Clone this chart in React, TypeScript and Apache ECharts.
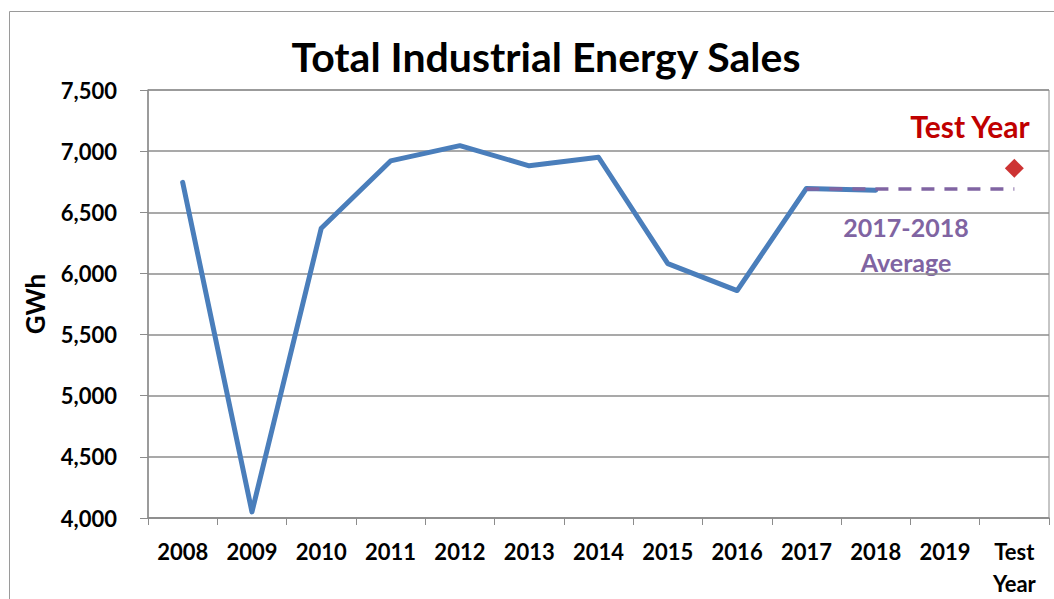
import React, { useEffect, useRef } from "react";
import * as echarts from "echarts";

const categories = ["2008", "2009", "2010", "2011", "2012", "2013", "2014", "2015", "2016", "2017", "2018", "2019", "Test\nYear"];
const salesValues = [6745, 4050, 6370, 6920, 7045, 6880, 6950, 6080, 5860, 6695, 6680, null, null];
const averageValues = [null, null, null, null, null, null, null, null, null, 6690, 6690, 6690, 6690];
const testYearValues = [null, null, null, null, null, null, null, null, null, null, null, null, 6860];
const titleText = "Total Industrial Energy Sales";
const yAxisName = "GWh";
const testYearLabel = "Test Year";
const averageLabel = "2017-2018\nAverage";

const FONT = "Lato, 'Open Sans', sans-serif";
const GRID_COLOR = "#8c8c8c";

export default function App() {
  const ref = useRef<HTMLDivElement>(null);
  useEffect(() => {
    if (!ref.current) return;
    const chart = echarts.init(ref.current, null, { renderer: "svg" });
    chart.setOption({
      animation: false,
      backgroundColor: "#ffffff",
      grid: {
        left: 148,
        top: 90,
        right: 5,
        bottom: 77,
        show: true,
        borderColor: GRID_COLOR,
        borderWidth: 1,
      },
      graphic: [
        {
          type: "rect",
          shape: { x: 9.5, y: 11.5, width: 1100, height: 700 },
          style: { fill: "none", stroke: "#9a9a9a", lineWidth: 1 },
          silent: true,
        },
        {
          type: "text",
          x: 546,
          y: 56,
          style: {
            text: titleText,
            font: `bold 41px ${FONT}`,
            fill: "#000",
            textAlign: "center",
            textVerticalAlign: "middle",
          },
        },
        {
          type: "text",
          x: 970,
          y: 126,
          style: {
            text: testYearLabel,
            font: `bold 30px ${FONT}`,
            fill: "#c00000",
            textAlign: "center",
            textVerticalAlign: "middle",
          },
        },
        {
          type: "text",
          x: 906,
          y: 244,
          style: {
            text: averageLabel,
            font: `bold 25px ${FONT}`,
            lineHeight: 35,
            fill: "#8064a2",
            textAlign: "center",
            textVerticalAlign: "middle",
          },
        },
      ],
      xAxis: {
        type: "category",
        data: categories,
        boundaryGap: true,
        axisLine: { lineStyle: { color: GRID_COLOR, width: 1.5 } },
        axisTick: { show: true, interval: 0, length: 7, lineStyle: { color: GRID_COLOR } },
        axisLabel: {
          interval: 0,
          margin: 17,
          color: "#000",
          fontFamily: FONT,
          fontWeight: "bold",
          fontSize: 22,
          lineHeight: 32,
          verticalAlign: "top",
        },
        splitLine: { show: false },
      },
      yAxis: {
        type: "value",
        min: 4000,
        max: 7500,
        interval: 500,
        name: yAxisName,
        nameLocation: "middle",
        nameRotate: 90,
        nameGap: 100,
        nameTextStyle: { color: "#000", fontFamily: FONT, fontWeight: "bold", fontSize: 26 },
        axisLine: { show: true, lineStyle: { color: GRID_COLOR, width: 1.5 } },
        axisTick: { show: true, length: 8, lineStyle: { color: GRID_COLOR } },
        axisLabel: {
          margin: 31,
          color: "#000",
          fontFamily: FONT,
          fontWeight: "bold",
          fontSize: 22,
          formatter: (v: number) => v.toLocaleString("en-US"),
        },
        splitLine: { show: true, lineStyle: { color: GRID_COLOR, width: 1.5 } },
      },
      series: [
        {
          name: "Sales",
          type: "line",
          data: salesValues,
          showSymbol: false,
          symbol: "none",
          lineStyle: { color: "#4a7ebb", width: 5, cap: "round", join: "round" },
          z: 2,
        },
        {
          name: "Average",
          type: "line",
          data: averageValues,
          showSymbol: false,
          symbol: "none",
          lineStyle: { color: "#8064a2", width: 3.5, type: [13, 10] },
          z: 3,
        },
        {
          name: "Test Year",
          type: "scatter",
          data: testYearValues,
          symbol: "diamond",
          symbolSize: [19, 19],
          itemStyle: { color: "#c00000" },
          z: 4,
        },
      ],
    });
    return () => chart.dispose();
  }, []);
  return (
    <div
      ref={ref}
      style={{ position: "fixed", left: 0, top: 0, width: 1054, height: 599 }}
    />
  );
}
